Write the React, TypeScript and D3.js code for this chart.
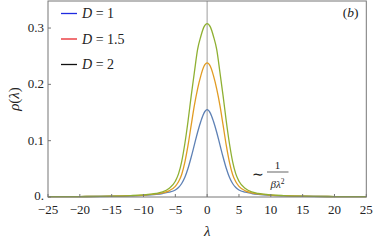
import * as d3 from "d3";

// lambda grid (symmetric curves)
const lambdas = [0, 0.5, 1, 1.5, 2, 2.5, 3, 3.5, 4, 4.5, 5, 6, 7, 8, 10, 12, 15, 20, 25];
const rhoD1 = [0.155, 0.149, 0.134, 0.115, 0.093, 0.071, 0.051, 0.035, 0.024, 0.017, 0.0125, 0.0085, 0.0062, 0.0047, 0.003, 0.0021, 0.0013, 0.0008, 0.0005];
const rhoD15 = [0.238, 0.232, 0.215, 0.192, 0.163, 0.128, 0.092, 0.062, 0.04, 0.027, 0.019, 0.011, 0.0075, 0.0055, 0.0034, 0.0023, 0.0014, 0.0008, 0.0005];
const rhoD2 = [0.308, 0.302, 0.285, 0.262, 0.222, 0.18, 0.135, 0.095, 0.063, 0.041, 0.028, 0.015, 0.009, 0.0065, 0.0038, 0.0025, 0.0015, 0.0008, 0.0005];

const xTicks = [-25, -20, -15, -10, -5, 0, 5, 10, 15, 20, 25];
const yTicks = [0, 0.1, 0.2, 0.3];
const yTickLabels = ["0.", "0.1", "0.2", "0.3"];

const legendLabels = ["1", "1.5", "2"];
const legendColors = ["#1f2be0", "#e8262a", "#111111"];
const curveColors = ["#5E81B5", "#E19C24", "#8FB032"];

const W = 374;
const H = 245;
const left = 48;
const right = 366.3;
const top = 1;
const bottom = 197;

const serif = '"Liberation Serif", "Times New Roman", serif';
const txt = { fontFamily: serif };

const mirror = (vals: number[]) => {
  const pts: [number, number][] = [];
  for (let i = lambdas.length - 1; i > 0; i--) pts.push([-lambdas[i], vals[i]]);
  for (let i = 0; i < lambdas.length; i++) pts.push([lambdas[i], vals[i]]);
  return pts;
};

export default function App() {
  const x = d3.scaleLinear().domain([-25, 25]).range([left, right]);
  const y = d3.scaleLinear().domain([0, 0.348]).range([bottom, top]);

  const line = d3
    .line<[number, number]>()
    .x((d) => x(d[0]))
    .y((d) => y(d[1]))
    .curve(d3.curveMonotoneX);

  const series = [rhoD1, rhoD15, rhoD2];

  return (
    <svg
      width={W}
      height={H}
      style={{ position: "absolute", left: 0, top: 0, background: "#fff", fontFamily: serif }}
    >
      {/* vertical line at lambda = 0 */}
      <line x1={x(0)} x2={x(0)} y1={top} y2={bottom} stroke="#b4b4b4" strokeWidth={1.3} />

      {series.map((s, i) => (
        <path key={i} d={line(mirror(s)) || ""} fill="none" stroke={curveColors[i]} strokeWidth={1.3} />
      ))}

      {/* frame */}
      <rect x={left} y={top} width={right - left} height={bottom - top} fill="none" stroke="#777" strokeWidth={1} />

      {/* x ticks */}
      {xTicks.map((t) => (
        <g key={t}>
          <line x1={x(t)} x2={x(t)} y1={bottom} y2={bottom - 3} stroke="#777" />
          <text x={x(t)} y={214} fontSize={13} textAnchor="middle" fill="#222" style={txt}>
            {t < 0 ? "\u2212" + Math.abs(t) : String(t)}
          </text>
        </g>
      ))}

      {/* y ticks */}
      {yTicks.map((t, i) => (
        <g key={t}>
          <line x1={left} x2={left + 3} y1={y(t)} y2={y(t)} stroke="#777" />
          <text x={44} y={y(t) + (t === 0 ? 2.5 : 4)} fontSize={13} textAnchor="end" fill="#222" style={txt}>
            {yTickLabels[i]}
          </text>
        </g>
      ))}

      {/* axis labels */}
      <text x={x(0)} y={236} fontSize={15} textAnchor="middle" fontStyle="italic" fill="#222" style={txt}>
        λ
      </text>
      <text
        transform={`translate(19, ${99}) rotate(-90)`}
        fontSize={15}
        textAnchor="middle"
        fill="#222"
        style={txt}
      >
        <tspan fontStyle="italic">ρ</tspan>(<tspan fontStyle="italic">λ</tspan>)
      </text>

      {/* panel tag */}
      <text x={350.7} y={17} fontSize={13.5} textAnchor="middle" fill="#222" style={txt}>
        (<tspan fontStyle="italic">b</tspan>)
      </text>

      {/* legend */}
      {legendLabels.map((lab, i) => (
        <g key={lab} transform={`translate(0, ${13.5 + i * 25.5})`}>
          <line x1={61} x2={77} y1={0} y2={0} stroke={legendColors[i]} strokeWidth={1.3} />
          <text x={82} y={4.5} fontSize={14} fill="#222" style={txt}>
            <tspan fontStyle="italic">D</tspan> = {lab}
          </text>
        </g>
      ))}

      {/* tail annotation */}
      <text x={258} y={179} fontSize={14} textAnchor="middle" fill="#222" style={txt}>
        ∼
      </text>
      <text x={277.5} y={168.5} fontSize={11} textAnchor="middle" fill="#222" style={txt}>
        1
      </text>
      <line x1={267} x2={288.5} y1={172} y2={172} stroke="#222" strokeWidth={0.7} />
      <text x={277.5} y={187.5} fontSize={11} textAnchor="middle" fill="#222" fontStyle="italic" style={txt}>
        βλ<tspan fontSize={7.5} dy={-4} fontStyle="normal">2</tspan>
      </text>
    </svg>
  );
}
